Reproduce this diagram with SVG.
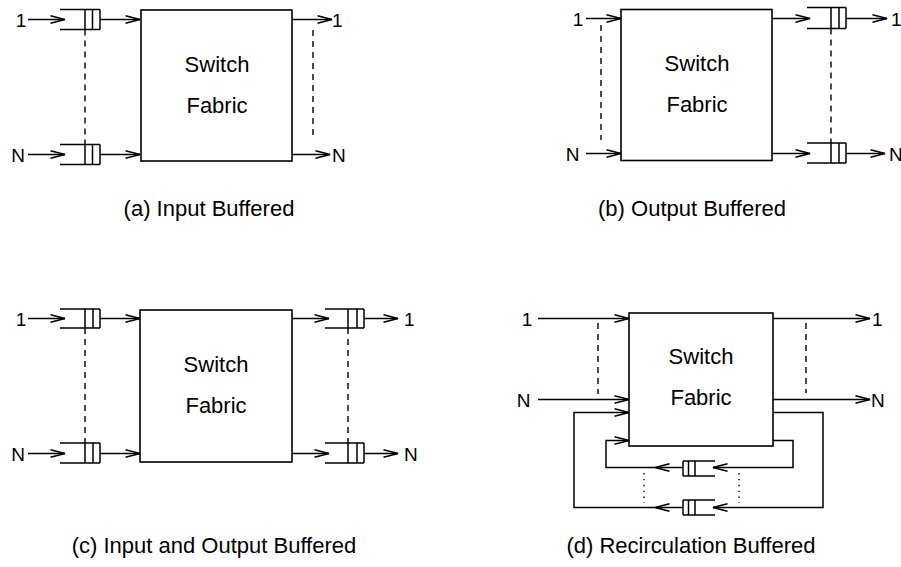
<svg xmlns="http://www.w3.org/2000/svg" width="901" height="567" viewBox="0 0 901 567">
<style>
.ln{fill:none;stroke:#000;stroke-width:1.5}
.ar{fill:none;stroke:#000;stroke-width:1.5;marker-end:url(#arr)}
.ds{fill:none;stroke:#000;stroke-width:1.4;stroke-dasharray:6,5}
.dt{fill:none;stroke:#000;stroke-width:1.4;stroke-dasharray:1.4,4.5}
.bx{fill:#fff;stroke:#000;stroke-width:1.6}
.t{font-family:"Liberation Sans",Arial,sans-serif;font-size:22px;fill:#000}
.l{font-family:"Liberation Sans",Arial,sans-serif;font-size:19px;fill:#000}
</style>
<defs>
<marker id="arr" markerUnits="userSpaceOnUse" viewBox="0 0 16 9" refX="15" refY="4.5" markerWidth="16" markerHeight="9" orient="auto">
<path d="M0.5,0.8 L15,4.5 L0.5,8.2" fill="none" stroke="#000" stroke-width="1.6"/>
</marker>
</defs>

<!-- Panel (a) -->
<g id="a-fabric"><rect class="bx" x="141" y="10" width="151" height="151"/>
<text class="t" x="217" y="72" text-anchor="middle">Switch</text>
<text class="t" x="217" y="113" text-anchor="middle">Fabric</text></g>
<g id="a-q1"><path class="ln" d="M60,9.5 H100 M60,29.5 H100 M85,9.5 V29.5 M92.5,9.5 V29.5 M100,9.5 V29.5"/></g>
<g id="a-qN"><path class="ln" d="M60,144.5 H100 M60,164.5 H100 M85,144.5 V164.5 M92.5,144.5 V164.5 M100,144.5 V164.5"/></g>
<g id="a-labels">
<text class="l" x="21" y="26.5" text-anchor="middle">1</text>
<text class="l" x="18" y="161.5" text-anchor="middle">N</text>
<text class="l" x="332" y="26.5">1</text>
<text class="l" x="332" y="161.5">N</text>
<text class="t" x="209" y="216" text-anchor="middle">(a) Input Buffered</text></g>

<!-- Panel (b) -->
<g id="b-fabric"><rect class="bx" x="621" y="9.5" width="151" height="151"/>
<text class="t" x="697" y="71" text-anchor="middle">Switch</text>
<text class="t" x="697" y="112" text-anchor="middle">Fabric</text></g>
<g id="b-q1"><path class="ln" d="M807,7.5 H846 M807,28.5 H846 M831,7.5 V28.5 M839,7.5 V28.5 M846,7.5 V28.5"/></g>
<g id="b-qN"><path class="ln" d="M807,143 H846 M807,163 H846 M831,143 V163 M839,143 V163 M846,143 V163"/></g>
<g id="b-labels">
<text class="l" x="578" y="25.5" text-anchor="middle">1</text>
<text class="l" x="572.5" y="160.5" text-anchor="middle">N</text>
<text class="l" x="891" y="25.5">1</text>
<text class="l" x="889" y="160.5">N</text>
<text class="t" x="692" y="216" text-anchor="middle">(b) Output Buffered</text></g>

<!-- Panel (c) -->
<g id="c-fabric"><rect class="bx" x="140" y="310" width="152" height="152"/>
<text class="t" x="216" y="372" text-anchor="middle">Switch</text>
<text class="t" x="216" y="413" text-anchor="middle">Fabric</text></g>
<g id="c-qi1"><path class="ln" d="M60,309 H100 M60,328 H100 M85,309 V328 M93,309 V328 M100,309 V328"/></g>
<g id="c-qiN"><path class="ln" d="M60,443 H100 M60,463 H100 M85,443 V463 M93,443 V463 M100,443 V463"/></g>
<g id="c-qo1"><path class="ln" d="M325,309 H364 M325,328 H364 M348,309 V328 M357,309 V328 M364,309 V328"/></g>
<g id="c-qoN"><path class="ln" d="M325,443 H364 M325,463 H364 M348,443 V463 M357,443 V463 M364,443 V463"/></g>
<g id="c-labels">
<text class="l" x="21" y="325.5" text-anchor="middle">1</text>
<text class="l" x="18" y="460.5" text-anchor="middle">N</text>
<text class="l" x="404" y="325.5">1</text>
<text class="l" x="404" y="460.5">N</text>
<text class="t" x="214" y="553" text-anchor="middle">(c) Input and Output Buffered</text></g>

<!-- Panel (d) -->
<g id="d-fabric"><rect class="bx" x="629" y="313" width="144" height="133"/>
<text class="t" x="701" y="364" text-anchor="middle">Switch</text>
<text class="t" x="701" y="405" text-anchor="middle">Fabric</text></g>
<g id="d-q1"><path class="ln" d="M683,461 H715 M683,476 H715 M683,461 V476 M688.5,461 V476 M695,461 V476"/></g>
<g id="d-q2"><path class="ln" d="M683,500 H715 M683,515 H715 M683,500 V515 M688.5,500 V515 M695,500 V515"/></g>
<g id="d-labels">
<text class="l" x="527" y="325.5" text-anchor="middle">1</text>
<text class="l" x="523.5" y="406.5" text-anchor="middle">N</text>
<text class="l" x="872" y="325.5">1</text>
<text class="l" x="871" y="406.5">N</text>
<text class="t" x="691" y="553" text-anchor="middle">(d) Recirculation Buffered</text></g>

<g id="connectors">
<!-- a -->
<path class="ar" d="M28,19.5 H65"/>
<path class="ar" d="M100,19.5 H140"/>
<path class="ar" d="M28,154.5 H65"/>
<path class="ar" d="M100,154.5 H140"/>
<path class="ar" d="M292,19.5 H332"/>
<path class="ar" d="M292,154.5 H330"/>
<path class="ds" d="M85,29.5 V144.5"/>
<path class="ds" d="M313,30 V140"/>
<!-- b -->
<path class="ar" d="M586,18.5 H621"/>
<path class="ar" d="M586,153.5 H621"/>
<path class="ar" d="M772,18.5 H810"/>
<path class="ar" d="M772,153.5 H810"/>
<path class="ar" d="M846,18.5 H887"/>
<path class="ar" d="M846,153.5 H885"/>
<path class="ds" d="M601,25 V140"/>
<path class="ds" d="M831,28.5 V143"/>
<!-- c -->
<path class="ar" d="M28,318.5 H65"/>
<path class="ar" d="M100,318.5 H140"/>
<path class="ar" d="M28,453.5 H65"/>
<path class="ar" d="M100,453.5 H140"/>
<path class="ar" d="M292,318.5 H329"/>
<path class="ar" d="M292,453.5 H329"/>
<path class="ar" d="M364,318.5 H398"/>
<path class="ar" d="M364,453.5 H398"/>
<path class="ds" d="M85,328 V443"/>
<path class="ds" d="M348,328 V443"/>
<!-- d -->
<path class="ar" d="M538,318.5 H629"/>
<path class="ar" d="M538,399.5 H629"/>
<path class="ar" d="M773,318.5 H870"/>
<path class="ar" d="M773,399.5 H870"/>
<path class="ds" d="M598,323 V394"/>
<path class="ds" d="M806,323 V393"/>
<path class="ar" d="M773,412.5 H823 V507.5 H713"/>
<path class="ar" d="M683,507.5 H655"/>
<path class="ar" d="M655,507.5 H574 V412.5 H629"/>
<path class="ar" d="M773,440.5 H793 V467.5 H713"/>
<path class="ar" d="M683,467.5 H655"/>
<path class="ar" d="M655,467.5 H606 V440.5 H629"/>
<path class="dt" d="M644,473 V503"/>
<path class="dt" d="M739,473 V503"/>
</g>
</svg>
